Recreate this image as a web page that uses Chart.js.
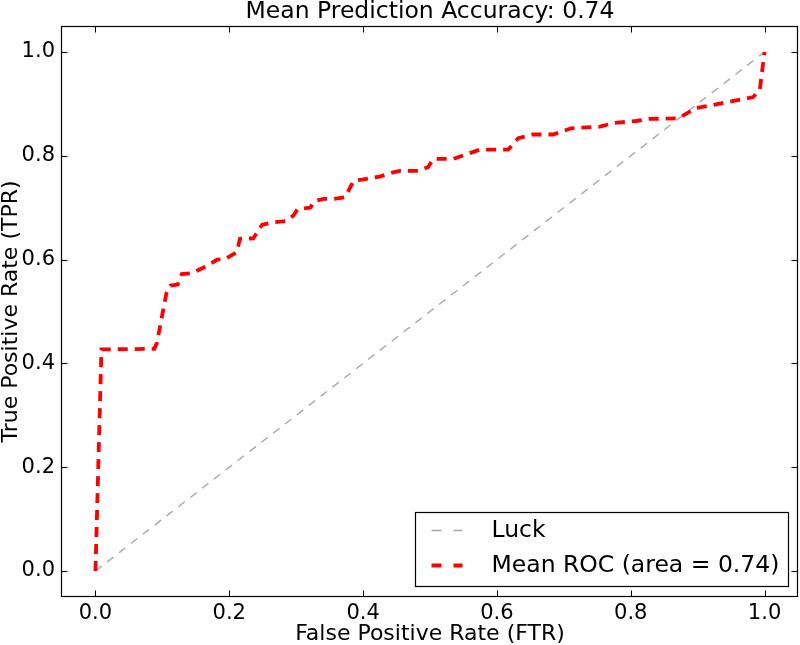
<!DOCTYPE html>
<html>
<head>
<meta charset="utf-8">
<title>Mean ROC</title>
<script src="https://cdn.jsdelivr.net/npm/chart.js@4.4.0/dist/chart.umd.min.js"></script>
<style>
  html, body { margin: 0; padding: 0; background: #fff; }
  #wrap { width: 800px; height: 645px; }
</style>
</head>
<body>
<div id="wrap"><canvas id="rocChart" width="800" height="645"></canvas></div>
<script>
// values
const rocFpr = [0, 0.009, 0.088, 0.092, 0.106, 0.112, 0.123, 0.129, 0.144, 0.167, 0.182, 0.194, 0.211, 0.216,
  0.236, 0.249, 0.266, 0.284, 0.296, 0.302, 0.321, 0.328, 0.341, 0.356, 0.373, 0.386, 0.398, 0.425, 0.445,
  0.455, 0.483, 0.497, 0.505, 0.535, 0.557, 0.575, 0.617, 0.632, 0.654, 0.684, 0.711, 0.754, 0.774, 0.808,
  0.828, 0.871, 0.898, 0.923, 0.983, 0.993, 1.0];
const rocTpr = [0, 0.427, 0.428, 0.44, 0.535, 0.55, 0.552, 0.572, 0.574, 0.588, 0.6, 0.601, 0.614, 0.64,
  0.641, 0.667, 0.672, 0.674, 0.685, 0.697, 0.7, 0.713, 0.717, 0.717, 0.72, 0.752, 0.754, 0.76, 0.768,
  0.771, 0.771, 0.778, 0.794, 0.794, 0.804, 0.812, 0.812, 0.834, 0.841, 0.841, 0.853, 0.856, 0.863, 0.867,
  0.871, 0.872, 0.892, 0.898, 0.913, 0.928, 1.0];
const luckFpr = [0, 1];
const luckTpr = [0, 1];
const tickValues = [0, 0.2, 0.4, 0.6, 0.8, 1.0];

const titleText = "Mean Prediction Accuracy: 0.74";
const xTitle = "False Positive Rate (FTR)";
const yTitle = "True Positive Rate (TPR)";
const rocLabel = "Mean ROC (area = 0.74)";
const luckLabel = "Luck";

const FONT = "'DejaVu Sans', sans-serif";

function toPoints(xs, ys) {
  return xs.map((x, i) => ({ x: x, y: ys[i] }));
}

// box around the plot + inward ticks on all four sides (matplotlib look)
const framePlugin = {
  id: 'frame',
  afterDatasetsDraw(chart) {
    const { ctx, chartArea: a, scales } = chart;
    const L = Math.round(a.left) - 0.5, R = Math.round(a.right) - 0.5;
    const T = Math.round(a.top) + 0.5, B = Math.round(a.bottom) - 0.5;
    ctx.save();
    ctx.strokeStyle = '#000';
    ctx.lineWidth = 1.2;
    ctx.setLineDash([]);
    ctx.strokeRect(L, T, R - L, B - T);
    ctx.beginPath();
    ctx.lineWidth = 1;
    tickValues.forEach(v => {
      const px = Math.round(scales.x.getPixelForValue(v)) + 0.5;
      ctx.moveTo(px, B); ctx.lineTo(px, B - 6);
      ctx.moveTo(px, T); ctx.lineTo(px, T + 6);
      const py = Math.round(scales.y.getPixelForValue(v)) + 0.5;
      ctx.moveTo(L, py); ctx.lineTo(L + 6, py);
      ctx.moveTo(R, py); ctx.lineTo(R - 6, py);
    });
    ctx.stroke();
    ctx.restore();
  }
};

// legend box in the lower right corner of the plot
const legendPlugin = {
  id: 'boxLegend',
  afterDraw(chart) {
    const { ctx, chartArea: a } = chart;
    const items = chart.data.datasets.slice().reverse();
    ctx.save();
    ctx.font = "23.5px " + FONT;
    const textW = Math.max(...items.map(d => ctx.measureText(d.label).width));
    const padL = 16, sampleW = 31, gap = 29, padR = 10, rowH = 35;
    const boxW = padL + sampleW + gap + textW + padR;
    const boxH = 74;
    const right = Math.round(a.right - 10) + 0.5;
    const bottom = Math.round(a.bottom - 11) + 0.5;
    const left = Math.round(right - boxW) + 0.5;
    const top = bottom - boxH;
    ctx.fillStyle = '#fff';
    ctx.fillRect(left, top, right - left, boxH);
    ctx.strokeStyle = '#000';
    ctx.lineWidth = 1.2;
    ctx.strokeRect(left, top, right - left, boxH);
    items.forEach((d, i) => {
      const cy = top + 18 + i * rowH;
      ctx.beginPath();
      ctx.strokeStyle = d.borderColor;
      ctx.lineWidth = d.borderWidth;
      ctx.setLineDash([10, 12]);
      ctx.moveTo(left + padL, cy);
      ctx.lineTo(left + padL + sampleW, cy);
      ctx.stroke();
      ctx.setLineDash([]);
      ctx.fillStyle = '#000';
      ctx.textBaseline = 'middle';
      ctx.textAlign = 'left';
      ctx.fillText(d.label, left + padL + sampleW + gap, cy);
    });
    ctx.restore();
  }
};

const tickFont = { family: FONT, size: 21 };
const labelFont = { family: FONT, size: 22, lineHeight: 1 };

new Chart(document.getElementById('rocChart'), {
  type: 'scatter',
  data: {
    datasets: [
      {
        label: rocLabel,
        data: toPoints(rocFpr, rocTpr),
        showLine: true,
        borderColor: '#ff0000',
        backgroundColor: '#ff0000',
        borderWidth: 3.8,
        borderDash: [10, 7],
        pointRadius: 0,
        tension: 0,
        fill: false
      },
      {
        label: luckLabel,
        data: toPoints(luckFpr, luckTpr),
        showLine: true,
        borderColor: '#a8a8a8',
        backgroundColor: '#a8a8a8',
        borderWidth: 1.4,
        borderDash: [8, 7],
        pointRadius: 0,
        fill: false
      }
    ]
  },
  options: {
    responsive: false,
    animation: false,
    devicePixelRatio: 1,
    layout: { padding: { left: 0, right: 2, top: 0, bottom: 0 } },
    plugins: {
      legend: { display: false },
      tooltip: { enabled: false },
      title: {
        display: true,
        text: titleText,
        color: '#000',
        fullSize: false,
        font: { family: FONT, size: 23.5, weight: 'normal', lineHeight: 1 },
        padding: { top: 0, bottom: 2.5 }
      }
    },
    scales: {
      x: {
        type: 'linear',
        min: -0.05,
        max: 1.05,
        afterBuildTicks: s => { s.ticks = tickValues.map(v => ({ value: v })); },
        afterFit: s => { s.height = 48; },
        grid: { display: false, drawTicks: false },
        border: { display: false },
        ticks: { padding: 4, color: '#000', font: tickFont, maxRotation: 0, callback: v => v.toFixed(1) },
        title: { display: true, text: xTitle, color: '#000', font: labelFont, padding: 0 }
      },
      y: {
        type: 'linear',
        min: -0.05,
        max: 1.05,
        afterBuildTicks: s => { s.ticks = tickValues.map(v => ({ value: v })); },
        afterFit: s => { s.width = 62; },
        grid: { display: false, drawTicks: false },
        border: { display: false },
        ticks: { padding: 7, color: '#000', font: tickFont, callback: v => v.toFixed(1) },
        title: { display: true, text: yTitle, color: '#000', font: labelFont, padding: 0 }
      }
    }
  },
  plugins: [framePlugin, legendPlugin]
});
</script>
</body>
</html>
